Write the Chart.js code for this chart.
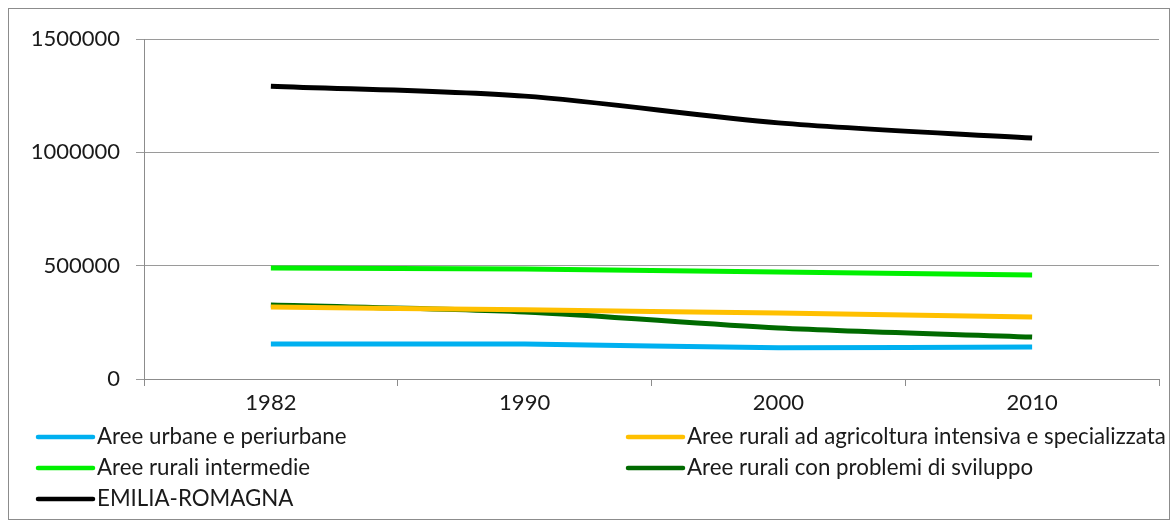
<!DOCTYPE html>
<html>
<head>
<meta charset="utf-8">
<script src="https://cdn.jsdelivr.net/npm/chart.js@4/dist/chart.umd.min.js"></script>
<style>
  html, body { margin: 0; padding: 0; background: #fff; }
  #wrap { position: relative; width: 1176px; height: 523px; }
</style>
</head>
<body>
<div id="wrap"><canvas id="c" width="1176" height="523"></canvas></div>
<script>
const categories = ['1982', '1990', '2000', '2010'];
const seriesNames = [
  'Aree urbane e periurbane',
  'Aree rurali ad agricoltura intensiva e specializzata',
  'Aree rurali intermedie',
  'Aree rurali con problemi di sviluppo',
  'EMILIA-ROMAGNA'
];
const urbane = [154000, 154000, 138000, 141000];
const intensiva = [318000, 305000, 291000, 273000];
const intermedie = [490000, 485000, 472000, 459000];
const problemi = [326000, 296000, 225000, 185000];
const emilia = [1292000, 1248000, 1130000, 1063000];
const yTicks = [0, 500000, 1000000, 1500000];
const colors = ['#00B0F0', '#FFC000', '#00F000', '#006A00', '#000000'];

const allSeries = [urbane, intensiva, intermedie, problemi, emilia];

const FONT = 'Lato, "Open Sans", sans-serif';

const frame = {
  id: 'frame',
  beforeDraw(chart) {
    const ctx = chart.ctx;
    ctx.save();
    ctx.fillStyle = '#fff';
    ctx.fillRect(0, 0, chart.width, chart.height);
    ctx.strokeStyle = '#8c8c8c';
    ctx.lineWidth = 1;
    ctx.strokeRect(8.5, 8.5, 1161, 511);
    ctx.restore();
  }
};

const legend2col = {
  id: 'legend2col',
  afterDraw(chart) {
    const ctx = chart.ctx;
    const ds = chart.data.datasets;
    const colX = [38, 628];
    const rowY = [437, 468, 499];
    ctx.save();
    ctx.font = '22.3px ' + FONT;
    ctx.textBaseline = 'middle';
    ctx.textAlign = 'left';
    ds.forEach((d, i) => {
      const col = i % 2, row = Math.floor(i / 2);
      const x = colX[col], y = rowY[row];
      ctx.strokeStyle = d.borderColor;
      ctx.lineWidth = 4.5;
      ctx.lineCap = 'round';
      ctx.beginPath();
      ctx.moveTo(x, y);
      ctx.lineTo(x + 55, y);
      ctx.stroke();
      ctx.fillStyle = '#1a1a1a';
      ctx.fillText(d.label, x + 59, y);
    });
    ctx.restore();
  }
};

new Chart(document.getElementById('c'), {
  type: 'line',
  data: {
    labels: categories,
    datasets: allSeries.map((vals, i) => ({
      label: seriesNames[i],
      data: vals,
      borderColor: colors[i],
      backgroundColor: colors[i],
      borderWidth: 5,
      pointRadius: 0,
      tension: 0.3,
      fill: false
    }))
  },
  options: {
    responsive: false,
    animation: false,
    layout: { padding: { left: 0, right: 17, top: 39, bottom: 99 } },
    plugins: { legend: { display: false }, tooltip: { enabled: false } },
    scales: {
      x: {
        offset: true,
        grid: { offset: true, drawOnChartArea: false, drawTicks: true, tickLength: 7, color: '#8c8c8c' },
        border: { color: '#8c8c8c', width: 1 },
        ticks: { color: '#1a1a1a', font: { family: FONT, size: 22 }, padding: 4 },
        afterFit(s) { s.height = 45; }
      },
      y: {
        min: 0, max: 1500000,
        afterBuildTicks(s) { s.ticks = yTicks.map(v => ({ value: v })); },
        grid: { color: '#9a9a9a', tickLength: 8 },
        border: { color: '#8c8c8c', width: 1 },
        ticks: { color: '#1a1a1a', font: { family: FONT, size: 22 }, padding: 16, callback: v => String(v) },
        afterFit(s) { s.width = 144; }
      }
    }
  },
  plugins: [frame, legend2col]
});
</script>
</body>
</html>
